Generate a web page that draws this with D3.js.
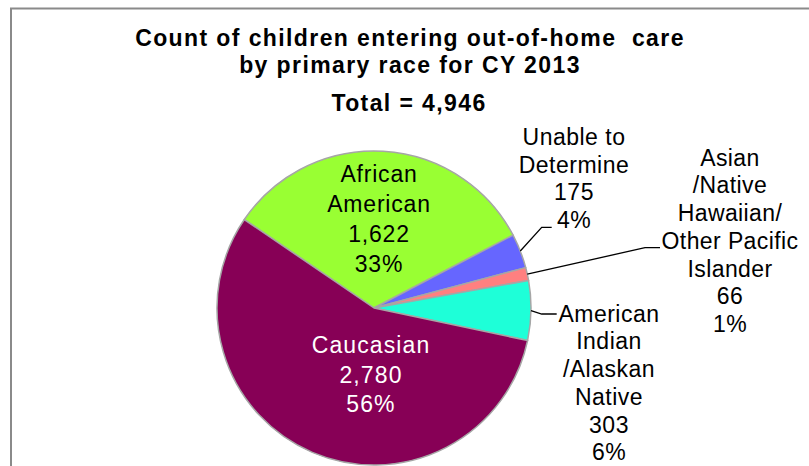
<!DOCTYPE html>
<html>
<head>
<meta charset="utf-8">
<script src="https://cdn.jsdelivr.net/npm/d3@7"></script>
<style>
  html, body { margin: 0; padding: 0; background: #fff; }
  svg { display: block; }
  text { font-family: "Liberation Sans", Arial, sans-serif; white-space: pre; }
</style>
</head>
<body>
<div id="chart"></div>
<script>
// ---- data ----
const categories = ["African American", "Unable to Determine", "Asian /Native Hawaiian/ Other Pacific Islander", "American Indian /Alaskan Native", "Caucasian"];
const values = [1622, 175, 66, 303, 2780];
const percents = ["33%", "4%", "1%", "6%", "56%"];
const labelLines = [
  ["African", "American"],
  ["Unable to", "Determine"],
  ["Asian", "/Native", "Hawaiian/", "Other Pacific", "Islander"],
  ["American", "Indian", "/Alaskan", "Native"],
  ["Caucasian"]
];
const colors = ["#99FF33", "#6666FF", "#FF8080", "#1EFFD8", "#870056"];
const titleLines = ["Count of children entering out-of-home  care", "by primary race for CY 2013"];
const totalLabel = "Total = 4,946";

// ---- layout ----
const W = 809, H = 466;
const cx = 374, cy = 308, R = 157;
const startDeg = -55.7;

const svg = d3.select("#chart").append("svg").attr("width", W).attr("height", H);

// frame
svg.append("path")
  .attr("d", `M11,${H} L11,8.5 L${W},8.5`)
  .attr("fill", "none").attr("stroke", "#8a8a8a").attr("stroke-width", 2);

// title
const title = svg.append("g").attr("font-weight", "bold").attr("font-size", "23px")
  .attr("letter-spacing", "1.4px").attr("text-anchor", "middle").attr("fill", "#000");
title.selectAll("text.t").data(titleLines).join("text").attr("class", "t")
  .attr("x", 410).attr("y", (d, i) => 45.5 + i * 27.5).text(d => d);
title.append("text").attr("x", 409).attr("y", 111).text(totalLabel);

// pie
const toRad = d => d * Math.PI / 180;
const pie = d3.pie().sort(null).value(d => d)
  .startAngle(toRad(startDeg)).endAngle(toRad(startDeg + 360));
const arcs = pie(values);
const arc = d3.arc().innerRadius(0).outerRadius(R);

const g = svg.append("g").attr("transform", `translate(${cx},${cy})`);
g.selectAll("path.slice").data(arcs).join("path").attr("class", "slice")
  .attr("d", arc)
  .attr("fill", (d, i) => colors[i])
  .attr("stroke", "#a6a6a6").attr("stroke-width", 1.5).attr("stroke-linejoin", "round");

// label layout (positions relative to chart)
const labelCfg = [
  { x: 379, y: 181.7, lh: 30, fill: "#000", inside: true, ls: "0.8px" },
  { x: 574, y: 145, lh: 27.7, fill: "#000", elbow: [541.7, 227.3], end: 551.7, ls: "0.5px" },
  { x: 730, y: 165.7, lh: 27.7, fill: "#000", elbow: [645, 247.7], end: 660, ls: "0.4px" },
  { x: 609, y: 321.7, lh: 27.7, fill: "#000", elbow: [541.7, 314], end: 556.7, ls: "0.5px" },
  { x: 371, y: 353.3, lh: 29.2, fill: "#fff", inside: true, ls: "1.1px" }
];

const fmt = d3.format(",");

// leader lines
arcs.forEach((a, i) => {
  const c = labelCfg[i];
  if (c.inside) return;
  const mid = (a.startAngle + a.endAngle) / 2;
  const sx = cx + R * Math.sin(mid), sy = cy - R * Math.cos(mid);
  svg.append("path")
    .attr("d", `M${sx},${sy} L${c.elbow[0]},${c.elbow[1]} L${c.end},${c.elbow[1]}`)
    .attr("fill", "none").attr("stroke", "#000").attr("stroke-width", 1.3);
});

// labels
const lg = svg.append("g").attr("font-size", "23px").attr("text-anchor", "middle");
arcs.forEach((a, i) => {
  const c = labelCfg[i];
  const lines = labelLines[i].concat([fmt(values[i]), percents[i]]);
  const t = lg.append("text").attr("fill", c.fill).attr("letter-spacing", c.ls);
  lines.forEach((ln, k) => {
    t.append("tspan").attr("x", c.x).attr("y", c.y + k * c.lh).text(ln);
  });
});
</script>
</body>
</html>
